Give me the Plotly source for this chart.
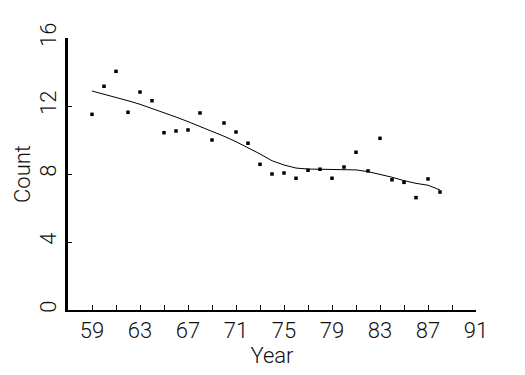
import plotly.graph_objects as go

years = list(range(59, 89))
counts = [11.51, 13.16, 14.04, 11.63, 12.82, 12.31, 10.43, 10.53, 10.59, 11.59,
          10.00, 11.00, 10.47, 9.81, 8.57, 8.00, 8.06, 7.75, 8.22, 8.28,
          7.75, 8.41, 9.28, 8.18, 10.10, 7.66, 7.51, 6.61, 7.71, 6.94]
smooth = [12.88, 12.70, 12.51, 12.31, 12.10, 11.86, 11.61, 11.35, 11.08, 10.80,
          10.53, 10.22, 9.90, 9.55, 9.18, 8.78, 8.53, 8.35, 8.29, 8.28,
          8.28, 8.28, 8.24, 8.14, 7.98, 7.81, 7.61, 7.45, 7.34, 7.06]
x_ticks = list(range(59, 92, 2))
x_labels = [str(v) if (v - 59) % 4 == 0 else "" for v in x_ticks]
y_ticks = [0, 4, 8, 12, 16]

font = dict(family="Roboto", size=22, color="#111", weight=300)

fig = go.Figure()
fig.add_trace(go.Scatter(x=years, y=smooth, mode="lines",
                         line=dict(color="black", width=1), showlegend=False))
fig.add_trace(go.Scatter(x=years, y=counts, mode="markers",
                         marker=dict(symbol="square", size=3.5, color="black",
                                     line=dict(width=0)),
                         showlegend=False))

fig.update_layout(
    width=525, height=375,
    margin=dict(l=68, r=49, t=38, b=65),
    paper_bgcolor="white", plot_bgcolor="white",
    font=font,
    xaxis=dict(range=[57, 91], tickvals=x_ticks, ticktext=x_labels,
               ticks="inside", ticklen=5, tickwidth=1, tickcolor="black",
               showline=True, linecolor="black", linewidth=2,
               showgrid=False, zeroline=False, tickfont=font, automargin=False,
               title=dict(text="Year", font=font, standoff=0)),
    yaxis=dict(range=[0, 16], tickvals=y_ticks,
               ticks="inside", ticklen=4, tickwidth=1, tickcolor="black",
               showline=True, linecolor="black", linewidth=3,
               showgrid=False, zeroline=False, tickangle=-90, tickfont=font,
               automargin=False,
               title=dict(text="Count", font=font, standoff=0)),
)

fig.write_html("out.html", config={"displayModeBar": False},
               post_script="document.body.style.margin='0';")
